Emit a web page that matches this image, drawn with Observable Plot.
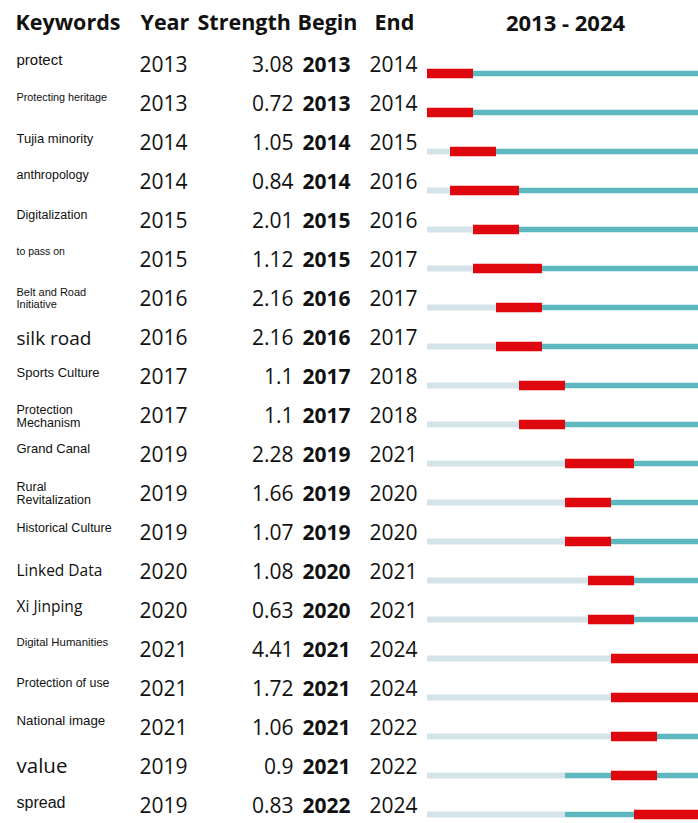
<!DOCTYPE html>
<html><head><meta charset="utf-8">
<script src="https://cdn.jsdelivr.net/npm/d3@7"></script>
<script src="https://cdn.jsdelivr.net/npm/@observablehq/plot@0.6"></script>
<style>
html,body{margin:0;padding:0;background:#fff;overflow:hidden}
#chart{width:698px;height:823px}
</style></head><body><div id="chart"></div>
<script>
// ---- data ----
const keywords = ["protect","Protecting heritage","Tujia minority","anthropology","Digitalization","to pass on","Belt and Road Initiative","silk road","Sports Culture","Protection Mechanism","Grand Canal","Rural Revitalization","Historical Culture","Linked Data","Xi Jinping","Digital Humanities","Protection of use","National image","value","spread"];
const years = [2013,2013,2014,2014,2015,2015,2016,2016,2017,2017,2019,2019,2019,2020,2020,2021,2021,2021,2019,2019];
const strengths = [3.08,0.72,1.05,0.84,2.01,1.12,2.16,2.16,1.1,1.1,2.28,1.66,1.07,1.08,0.63,4.41,1.72,1.06,0.9,0.83];
const begins = [2013,2013,2014,2014,2015,2015,2016,2016,2017,2017,2019,2019,2019,2020,2020,2021,2021,2021,2021,2022];
const ends = [2014,2014,2015,2016,2016,2017,2017,2017,2018,2018,2021,2020,2020,2021,2021,2024,2024,2022,2022,2024];
const headers = ["Keywords","Year","Strength","Begin","End"];
const startYear = 2013, endYear = 2024;

// ---- styling / layout (not data) ----
const sans = "Liberation Sans, Arial, sans-serif";
const open = "Open Sans, sans-serif";
const labelStyle = {
  "protect": {size: 15, dy: -6},
  "Protecting heritage": {size: 10.8, dy: -7},
  "Tujia minority": {size: 13, dy: -5},
  "anthropology": {size: 12.5, dy: -8},
  "Digitalization": {size: 12.5, dy: -7},
  "to pass on": {size: 10.5, dy: -9},
  "Belt and Road Initiative": {size: 11, dy: -1, text: "Belt and Road\nInitiative"},
  "silk road": {size: 19, dy: 0, font: open},
  "Sports Culture": {size: 13, dy: -5},
  "Protection Mechanism": {size: 12.5, dy: 0, text: "Protection\nMechanism"},
  "Grand Canal": {size: 13, dy: -7},
  "Rural Revitalization": {size: 12.5, dy: -1, text: "Rural\nRevitalization"},
  "Historical Culture": {size: 12.5, dy: -6},
  "Linked Data": {size: 15.5, dy: -2, font: open},
  "Xi Jinping": {size: 15.5, dy: -5, font: open},
  "Digital Humanities": {size: 11.4, dy: -8},
  "Protection of use": {size: 12.4, dy: -7},
  "National image": {size: 13.3, dy: -8},
  "value": {size: 20.5, dy: -1, font: open},
  "spread": {size: 16, dy: -4}
};
const headerX = [15, 140, 197, 297, 374];
const col = {year: 139, strength: 293, begin: 302, end: 369};
const colors = {before: "#d5e4eb", after: "#5db8bf", burst: "#e0080f"};

const rows = keywords.map((k, i) => ({
  i, keyword: k, year: years[i], strength: strengths[i], begin: begins[i], end: ends[i]
}));

const numFont = {fontFamily: open, fontSize: 21, fill: "#111"};

const marks = [
  // bars
  Plot.ruleY(rows, {y: "i", x1: startYear, x2: "year", dy: 8, stroke: colors.before, strokeWidth: 6, clip: true}),
  Plot.ruleY(rows, {y: "i", x1: "year", x2: endYear + 1, dy: 8, stroke: colors.after, strokeWidth: 5.5, clip: true}),
  Plot.ruleY(rows, {y: "i", x1: "begin", x2: d => d.end + 1, dy: 8, stroke: colors.burst, strokeWidth: 9.5, clip: true}),
  // columns
  Plot.text(rows, {y: "i", text: d => String(d.year), frameAnchor: "left", dx: col.year, textAnchor: "start", ...numFont}),
  Plot.text(rows, {y: "i", text: d => String(d.strength), frameAnchor: "left", dx: col.strength, textAnchor: "end", ...numFont}),
  Plot.text(rows, {y: "i", text: d => String(d.begin), frameAnchor: "left", dx: col.begin, textAnchor: "start", ...numFont, fontWeight: "bold"}),
  Plot.text(rows, {y: "i", text: d => String(d.end), frameAnchor: "left", dx: col.end, textAnchor: "start", ...numFont}),
  // keyword labels
  ...rows.map(r => {
    const s = labelStyle[r.keyword];
    return Plot.text([r], {y: "i", text: d => s.text || d.keyword, frameAnchor: "left", dx: 16, dy: s.dy,
      textAnchor: "start", fontSize: s.size, fontFamily: s.font || sans, fill: "#111", lineHeight: 1.05});
  }),
  // headers
  ...headers.map((h, j) => Plot.text([h], {text: d => d, frameAnchor: "top-left", dx: headerX[j], dy: 23,
    textAnchor: "start", lineAnchor: "middle", fontFamily: open, fontWeight: "bold", fontSize: 21.5, fill: "#111"})),
  Plot.text([`${startYear} - ${endYear}`], {x: (startYear + endYear + 1) / 2, text: d => d, frameAnchor: "top", dy: 23,
    lineAnchor: "middle", fontFamily: open, fontWeight: "bold", fontSize: 22, fill: "#111"})
];

const chart = Plot.plot({
  width: 698, height: 823, margin: 0,
  x: {domain: [startYear, endYear + 1], range: [427, 703], axis: null},
  y: {type: "point", domain: d3.range(keywords.length), range: [61.7, 809.5], padding: 0, axis: null},
  style: {background: "#fff"},
  marks
});
document.getElementById("chart").append(chart);
</script></body></html>
